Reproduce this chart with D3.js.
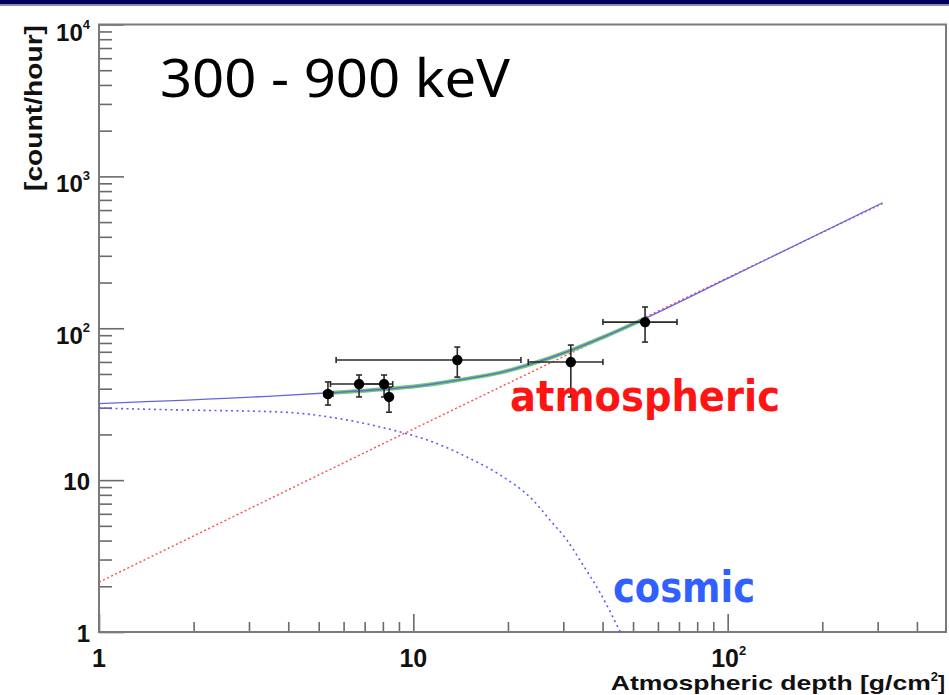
<!DOCTYPE html>
<html>
<head>
<meta charset="utf-8">
<script src="https://cdn.jsdelivr.net/npm/d3@7"></script>
<style>
  html, body { margin: 0; padding: 0; background: #fff; }
  svg { display: block; }
</style>
</head>
<body>
<svg id="chart" width="949" height="695"></svg>
<script>
// Measured count rate vs. atmospheric depth (300-900 keV band)
const depth    = [5.35, 6.72, 8.07, 8.37, 13.8, 31.7, 54.6];
const depthLo  = [5.2, 5.45, 6.7, 8.2, 5.68, 23.2, 40.1];
const depthHi  = [5.55, 8.1, 8.6, 8.55, 22.0, 40.1, 69.0];
const rate     = [36.9, 42.9, 42.9, 35.3, 61.8, 59.9, 109.8];
const rateLo   = [31.2, 35.3, 35.3, 28.0, 47.7, 35.3, 81.1];
const rateHi   = [44.3, 49.2, 49.2, 41.0, 75.2, 77.5, 138];

// Model components
const cosmicDepth = [1, 1.77, 3.77, 5.43, 7.83, 11.55, 14.8, 18.9, 24.0, 27.2, 30.8, 34.7, 39.3, 45.5];
const cosmicRate  = [29.8, 29.0, 28.1, 26.0, 22.4, 17.8, 14.2, 10.8, 7.40, 5.46, 4.03, 2.75, 1.81, 1.0];
const atmDepth = [1, 9.5, 311];
const atmRate  = [2.13, 20.6, 662];
const totalDepth = [1, 3.77, 5.43, 7.83, 10.5, 13.8, 18.9, 23.2, 31.7, 40, 54.6, 100, 311];
const totalRate  = [31.9, 36.0, 37.6, 39.5, 41.8, 45.5, 51.0, 57.3, 71.5, 87, 116, 213, 670];
const fitDepth = [5.35, 7.83, 10.5, 13.8, 18.9, 23.2, 31.7, 40, 54.6];
const fitRate  = [37.5, 39.5, 41.8, 45.5, 51.0, 57.3, 71.5, 87, 116];

// Axis ticks and labels
const xMajor = [1, 10, 100];
const xMajorLabels = [["1", ""], ["10", ""], ["10", "2"]];
const yMajor = [1, 10, 100, 1000, 10000];
const yMajorLabels = [["1", ""], ["10", ""], ["10", "2"], ["10", "3"], ["10", "4"]];
const minorSteps = [2, 3, 4, 5, 6, 7, 8, 9];

const svg = d3.select("#chart");
const L = 99, R = 946, T = 24.5, B = 632;

const x = d3.scaleLog().domain([1, 495]).range([L, R]);
const y = d3.scaleLog().domain([1, 1e4]).range([B, T]);

// top banner strip
svg.append("rect").attr("x", 0).attr("y", 0).attr("width", 949).attr("height", 4.5).attr("fill", "#00005a");
svg.append("rect").attr("x", 0).attr("y", 4.5).attr("width", 949).attr("height", 1.5).attr("fill", "#8c8cc4");

svg.append("defs").append("clipPath").attr("id", "plotClip")
  .append("rect").attr("x", L).attr("y", T).attr("width", R - L).attr("height", B - T);

// minor tick values
const xMinor = [];
xMajor.forEach(d => minorSteps.forEach(k => { if (d * k < 495) xMinor.push(d * k); }));
const yMinor = [];
yMajor.slice(0, 4).forEach(d => minorSteps.forEach(k => yMinor.push(d * k)));

function styleAxis(g) {
  g.select(".domain").remove();
  g.selectAll(".tick line").attr("stroke", "#6a6a6a").attr("stroke-width", 1.6);
  g.selectAll(".tick text").remove();
}

svg.append("g").attr("transform", `translate(${L},0)`)
  .call(d3.axisLeft(y).tickValues(yMinor).tickSizeInner(-13).tickSizeOuter(0).tickFormat(""))
  .call(styleAxis);
svg.append("g").attr("transform", `translate(${L},0)`)
  .call(d3.axisLeft(y).tickValues(yMajor).tickSizeInner(-25).tickSizeOuter(0).tickFormat(""))
  .call(styleAxis);
svg.append("g").attr("transform", `translate(0,${B})`)
  .call(d3.axisBottom(x).tickValues(xMinor).tickSizeInner(-10).tickSizeOuter(0).tickFormat(""))
  .call(styleAxis);
svg.append("g").attr("transform", `translate(0,${B})`)
  .call(d3.axisBottom(x).tickValues(xMajor).tickSizeInner(-18).tickSizeOuter(0).tickFormat(""))
  .call(styleAxis);

// frame
svg.append("rect").attr("x", L).attr("y", T).attr("width", R - L).attr("height", B - T)
  .attr("fill", "none").attr("stroke", "#7a7a7a").attr("stroke-width", 2);

const labelFont = "'Liberation Sans', Arial, Helvetica, sans-serif";

// y tick labels
yMajor.forEach((v, i) => {
  const [base, sup] = yMajorLabels[i];
  const t = svg.append("text")
    .attr("x", 90).attr("y", y(v) + (sup ? 16 : 10))
    .attr("text-anchor", "end")
    .attr("font-family", labelFont).attr("font-weight", "bold").attr("font-size", 24)
    .attr("fill", "#111");
  t.append("tspan").text(base);
  if (sup) t.append("tspan").attr("dy", -12).attr("font-size", 13).text(sup);
});

// x tick labels
xMajor.forEach((v, i) => {
  const [base, sup] = xMajorLabels[i];
  const t = svg.append("text")
    .attr("x", x(v) + (sup ? 1 : 0)).attr("y", 667)
    .attr("text-anchor", "middle")
    .attr("font-family", labelFont).attr("font-weight", "bold").attr("font-size", 25)
    .attr("fill", "#111");
  t.append("tspan").text(base);
  if (sup) t.append("tspan").attr("dy", -12).attr("font-size", 13).text(sup);
});

// axis titles
const xt = svg.append("text")
  .attr("x", 945).attr("y", 690).attr("text-anchor", "end")
  .attr("font-family", labelFont).attr("font-weight", "bold").attr("font-size", 21)
  .attr("fill", "#111");
xt.append("tspan").attr("textLength", 320).attr("lengthAdjust", "spacingAndGlyphs")
  .text("Atmospheric depth [g/cm");
xt.append("tspan").attr("dy", -9).attr("font-size", 13).text("2");
xt.append("tspan").attr("dy", 9).text("]");

svg.append("text")
  .attr("transform", "translate(42,25) rotate(-90)")
  .attr("text-anchor", "end")
  .attr("font-family", labelFont).attr("font-weight", "bold").attr("font-size", 23)
  .attr("textLength", 166).attr("lengthAdjust", "spacingAndGlyphs")
  .attr("fill", "#111")
  .text("[count/hour]");

// curves
const plot = svg.append("g").attr("clip-path", "url(#plotClip)");
const line = d3.line().x(d => x(d[0])).y(d => y(d[1])).curve(d3.curveMonotoneX);
const zip = (a, b) => a.map((v, i) => [v, b[i]]);

plot.append("path").datum(zip(atmDepth, atmRate)).attr("d", line)
  .attr("fill", "none").attr("stroke", "#ff4a4a").attr("stroke-width", 1.4)
  .attr("stroke-dasharray", "2,2.5");
plot.append("path").datum(zip(cosmicDepth, cosmicRate)).attr("d", line)
  .attr("fill", "none").attr("stroke", "#5a5aff").attr("stroke-width", 1.6)
  .attr("stroke-dasharray", "2,3.5");
plot.append("path").datum(zip(fitDepth, fitRate)).attr("d", line)
  .attr("fill", "none").attr("stroke", "#6ccc6c").attr("stroke-width", 4)
  .attr("stroke-linecap", "round");
plot.append("path").datum(zip(totalDepth, totalRate)).attr("d", line)
  .attr("fill", "none").attr("stroke", "#6464e6").attr("stroke-width", 1.3);

// data points with error bars
const pts = depth.map((d, i) => ({ d, r: rate[i], dl: depthLo[i], dh: depthHi[i], rl: rateLo[i], rh: rateHi[i] }));
const eb = plot.append("g").attr("stroke", "#2a2a2a").attr("stroke-width", 1.6);
pts.forEach(p => {
  const cx = x(p.d), cy = y(p.r);
  eb.append("line").attr("x1", x(p.dl)).attr("x2", x(p.dh)).attr("y1", cy).attr("y2", cy);
  eb.append("line").attr("x1", x(p.dl)).attr("x2", x(p.dl)).attr("y1", cy - 3).attr("y2", cy + 3);
  eb.append("line").attr("x1", x(p.dh)).attr("x2", x(p.dh)).attr("y1", cy - 3).attr("y2", cy + 3);
  eb.append("line").attr("x1", cx).attr("x2", cx).attr("y1", y(p.rl)).attr("y2", y(p.rh));
  eb.append("line").attr("x1", cx - 3).attr("x2", cx + 3).attr("y1", y(p.rl)).attr("y2", y(p.rl));
  eb.append("line").attr("x1", cx - 3).attr("x2", cx + 3).attr("y1", y(p.rh)).attr("y2", y(p.rh));
});
plot.append("g").selectAll("circle").data(pts).join("circle")
  .attr("cx", p => x(p.d)).attr("cy", p => y(p.r)).attr("r", 5.2).attr("fill", "#000");

// annotations
svg.append("text").attr("x", 160).attr("y", 97)
  .attr("font-family", "'Comic Sans MS', 'Noto Sans', 'Open Sans', sans-serif")
  .attr("font-size", 52).attr("fill", "#000")
  .attr("textLength", 350).attr("lengthAdjust", "spacingAndGlyphs")
  .text("300 - 900 keV");
svg.append("text").attr("x", 510).attr("y", 411)
  .attr("font-family", "'Comic Sans MS', 'DejaVu Sans', sans-serif").attr("font-weight", "bold")
  .attr("font-size", 42).attr("fill", "#ff1414")
  .attr("textLength", 270).attr("lengthAdjust", "spacingAndGlyphs")
  .text("atmospheric");
svg.append("text").attr("x", 613).attr("y", 602)
  .attr("font-family", "'Comic Sans MS', 'DejaVu Sans', sans-serif").attr("font-weight", "bold")
  .attr("font-size", 42).attr("fill", "#3060ff")
  .attr("textLength", 142).attr("lengthAdjust", "spacingAndGlyphs")
  .text("cosmic");
</script>
</body>
</html>
